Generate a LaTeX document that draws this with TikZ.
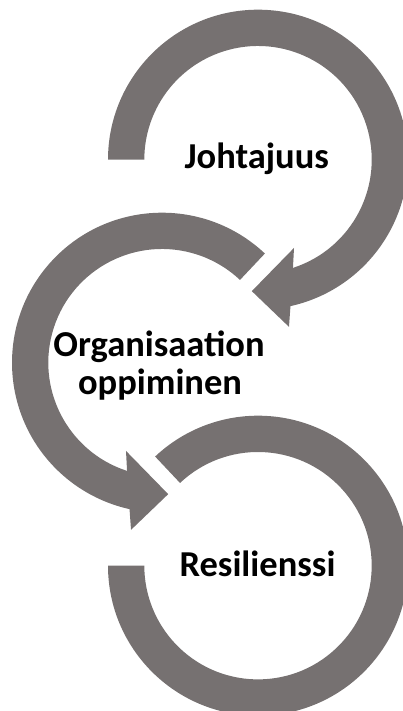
\documentclass[tikz,border=0pt]{standalone}
\usepackage{fontspec}
\setmainfont{Carlito}
\definecolor{ringgray}{HTML}{767171}
\begin{document}
\begin{tikzpicture}[x=1pt,y=1pt,
  ring/.style={fill=ringgray, draw=none},
  lbl/.style={font=\bfseries\fontsize{36.5}{39}\selectfont, text=black, inner sep=0pt, anchor=base}]
\useasboundingbox (0,0) rectangle (403,711);
\clip (0,0) rectangle (403,711);
% ring 1 (Johtajuus), clockwise with arrowhead
\path[ring, shift={(258,551.3)}]
  (180:150) arc[start angle=180, end angle=-77.5, radius=150]
  -- (-79.5:170) -- (-92.7:131.6) -- (-67.8:95.3) -- (-72.1:113.7)
  arc[start angle=-72.1, end angle=180, radius=113.7] -- cycle;
% ring 2 (Organisaation oppiminen), counter-clockwise with arrowhead
\path[ring, shift={(162,348.3)}]
  (46.7:150) arc[start angle=46.7, end angle=257.5, radius=150]
  -- (259.5:170) -- (272.7:131.6) -- (247.8:95.3) -- (252.1:113.7)
  arc[start angle=252.1, end angle=46.7, radius=113.7] -- cycle;
% ring 3 (Resilienssi), no arrowhead
\path[ring, shift={(258,145.3)}]
  (180:150) arc[start angle=180, end angle=493.3, radius=150]
  -- (493.3:113.7) arc[start angle=493.3, end angle=180, radius=113.7] -- cycle;
\node[lbl] (johto) at (256.7,542.7) {Johtajuus};
\node[lbl] (org1) at (159,354.3) {Organisaation};
\node[lbl] (org2) at (160,316) {oppiminen};
\node[lbl] (resi) at (257.5,134.3) {Resilienssi};
\end{tikzpicture}
\end{document}
